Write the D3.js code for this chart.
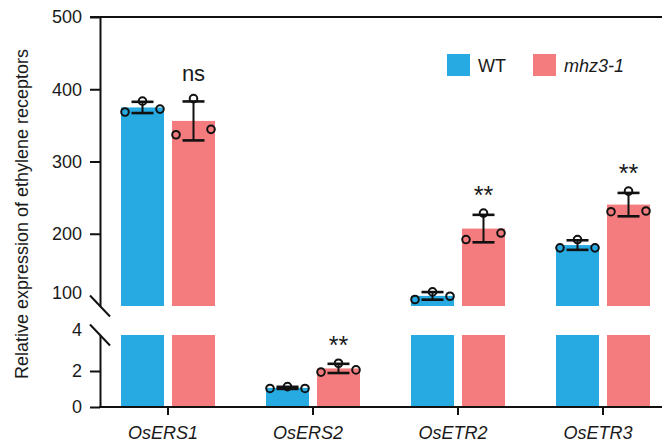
<!DOCTYPE html>
<html>
<head>
<meta charset="utf-8">
<script src="https://cdn.jsdelivr.net/npm/d3@7"></script>
<style>
  body { margin: 0; background: #fff; }
  text { font-family: Arial, "Liberation Sans", sans-serif; fill: #1a1a1a; }
</style>
</head>
<body>
<div id="chart"></div>
<script>
const genes = ["OsERS1", "OsERS2", "OsETR2", "OsETR3"];
const groups = ["WT", "mhz3-1"];
// three biological replicates per gene
const wtReps = [[368.5, 383.5, 372.5], [1.03, 1.13, 1.03], [109, 119.5, 113.5], [180.5, 192, 180.5]];
const mhzReps = [[337, 387, 344.5], [1.94, 2.43, 2.06], [192, 228.5, 201], [230.5, 259, 231.5]];
const sigLabels = ["ns", "**", "**", "**"];
const topTicks = [100, 200, 300, 400, 500];
const bottomTicks = [0, 2, 4];

const colors = { "WT": "#27A9E1", "mhz3-1": "#F47C7E" };
const W = 662, H = 446;

const svg = d3.select("#chart").append("svg")
    .attr("width", W)
    .attr("height", H);

const axisX = 100;

/* X-scales */
const x = d3.scaleBand().domain(genes).range([95.5, 675.5]);
const xSub = d3.scaleBand().domain(groups).range([-47, 47]).paddingInner(8 / 51);

/* Y-scales (broken axis: two segments) */
const yTop = d3.scaleLinear().domain([100, 500]).range([306, 17]);
const yBot = d3.scaleLinear().domain([0, 4]).range([407, 335]);
const yOf = v => v > 4 ? yTop(v) : yBot(v);

const rows = [];
genes.forEach((g, i) => {
    [wtReps[i], mhzReps[i]].forEach((reps, k) => {
        rows.push({
            gene: g,
            group: groups[k],
            reps: reps,
            mean: d3.mean(reps),
            sd: d3.deviation(reps)
        });
    });
});

const cx = d => x(d.gene) + x.bandwidth() / 2 + xSub(d.group) + xSub.bandwidth() / 2;

/* bars: bottom segment */
svg.selectAll("rect.bot")
    .data(rows)
    .enter()
    .append("rect")
    .attr("class", "bot")
    .attr("x", d => x(d.gene) + x.bandwidth() / 2 + xSub(d.group))
    .attr("width", xSub.bandwidth())
    .attr("y", d => yBot(Math.min(d.mean, 4)))
    .attr("height", d => yBot(0) - yBot(Math.min(d.mean, 4)))
    .attr("fill", d => colors[d.group]);

/* bars: top segment */
svg.selectAll("rect.top")
    .data(rows.filter(d => d.mean > 4))
    .enter()
    .append("rect")
    .attr("class", "top")
    .attr("x", d => x(d.gene) + x.bandwidth() / 2 + xSub(d.group))
    .attr("width", xSub.bandwidth())
    .attr("y", d => yTop(d.mean))
    .attr("height", d => yTop(100) - yTop(d.mean))
    .attr("fill", d => colors[d.group]);

/* error bars */
const capW = 11;
const err = svg.selectAll("g.err")
    .data(rows)
    .enter()
    .append("g")
    .attr("stroke", "#111")
    .attr("stroke-width", 2);

err.append("line")
    .attr("x1", cx).attr("x2", cx)
    .attr("y1", d => yOf(d.mean - d.sd))
    .attr("y2", d => yOf(d.mean + d.sd));
err.append("line")
    .attr("stroke-width", 2.6)
    .attr("x1", d => cx(d) - capW).attr("x2", d => cx(d) + capW)
    .attr("y1", d => yOf(d.mean + d.sd)).attr("y2", d => yOf(d.mean + d.sd));
err.append("line")
    .attr("stroke-width", 2.6)
    .attr("x1", d => cx(d) - capW).attr("x2", d => cx(d) + capW)
    .attr("y1", d => yOf(d.mean - d.sd)).attr("y2", d => yOf(d.mean - d.sd));

/* replicate dots */
const pts = [];
rows.forEach(d => d.reps.forEach((v, j) => pts.push({ row: d, v: v, j: j })));
svg.selectAll("circle.pt")
    .data(pts)
    .enter()
    .append("circle")
    .attr("cx", p => cx(p.row) + (p.j - 1) * 17.5)
    .attr("cy", p => yOf(p.v))
    .attr("r", 3.8)
    .attr("fill", "none")
    .attr("stroke", "#111")
    .attr("stroke-width", 2);

/* significance labels */
svg.selectAll("text.sig")
    .data(genes)
    .enter()
    .append("text")
    .attr("x", g => x(g) + x.bandwidth() / 2 + xSub("mhz3-1") + xSub.bandwidth() / 2)
    .attr("y", (g, i) => {
        const d = rows.find(r => r.gene === g && r.group === "mhz3-1");
        const top = Math.min(yOf(d.mean + d.sd), d3.min(d.reps, yOf));
        return top - (sigLabels[i] === "ns" ? 18 : 9);
    })
    .attr("text-anchor", "middle")
    .attr("font-size", (g, i) => sigLabels[i] === "ns" ? 22 : 25)
    .text((g, i) => sigLabels[i]);

/* Y-axis, top segment */
const axTop = svg.append("g")
    .attr("transform", `translate(${axisX},0)`)
    .call(d3.axisLeft(yTop).tickValues(topTicks).tickSize(10).tickSizeOuter(0).tickPadding(8));
/* Y-axis, bottom segment */
const axBot = svg.append("g")
    .attr("transform", `translate(${axisX},0)`)
    .call(d3.axisLeft(yBot).tickValues(bottomTicks).tickFormat(d3.format("d"))
        .tickSize(10).tickSizeOuter(0).tickPadding(8));

[axTop, axBot].forEach(ax => {
    ax.selectAll("path, line").attr("stroke", "#111").attr("stroke-width", 2);
    ax.selectAll("text").attr("font-size", 18).attr("fill", "#1a1a1a");
});
// break-end ticks are replaced by the slashes; their labels sit a little higher
axTop.selectAll(".tick").filter(v => v === 100).select("line").remove();
axTop.selectAll(".tick").filter(v => v === 100).select("text").attr("dy", "-0.4em");
axBot.selectAll(".tick").filter(v => v === 4).select("line").remove();
axBot.selectAll(".tick").filter(v => v === 4).select("text").attr("dy", "0.04em");

/* break slashes */
[yTop(100), yBot(4)].forEach(yy => {
    svg.append("line")
        .attr("x1", axisX - 10).attr("y1", yy - 10.5)
        .attr("x2", axisX + 10).attr("y2", yy + 10.5)
        .attr("stroke", "#111").attr("stroke-width", 2);
});

/* top frame line */
svg.append("line")
    .attr("x1", axisX - 10).attr("x2", W)
    .attr("y1", yTop(500)).attr("y2", yTop(500))
    .attr("stroke", "#111").attr("stroke-width", 2);

/* X-axis */
const axX = svg.append("g")
    .attr("transform", `translate(0,${yBot(0)})`)
    .call(d3.axisBottom(x).tickSize(8).tickPadding(11));
axX.select(".domain").remove();
axX.selectAll("line").attr("stroke", "#111").attr("stroke-width", 2);
axX.selectAll("text")
    .attr("font-size", 18)
    .attr("font-style", "italic")
    .attr("dx", -5)
    .attr("fill", "#1a1a1a");
svg.append("line")
    .attr("x1", axisX - 1).attr("x2", W)
    .attr("y1", yBot(0)).attr("y2", yBot(0))
    .attr("stroke", "#111").attr("stroke-width", 2);

/* Y-axis title */
svg.append("text")
    .attr("transform", `translate(28, 214) rotate(-90)`)
    .attr("text-anchor", "middle")
    .attr("font-size", 18)
    .text("Relative expression of ethylene receptors");

/* legend */
const legX = [447, 533];
const leg = svg.selectAll("g.leg")
    .data(groups)
    .enter()
    .append("g")
    .attr("transform", (g, i) => `translate(${legX[i]}, 54)`);
leg.append("rect")
    .attr("width", 23).attr("height", 22)
    .attr("fill", g => colors[g]);
leg.append("text")
    .attr("x", 31).attr("y", 17.5)
    .attr("font-size", 18)
    .attr("font-style", g => g === "WT" ? "normal" : "italic")
    .text(g => g);
</script>
</body>
</html>
